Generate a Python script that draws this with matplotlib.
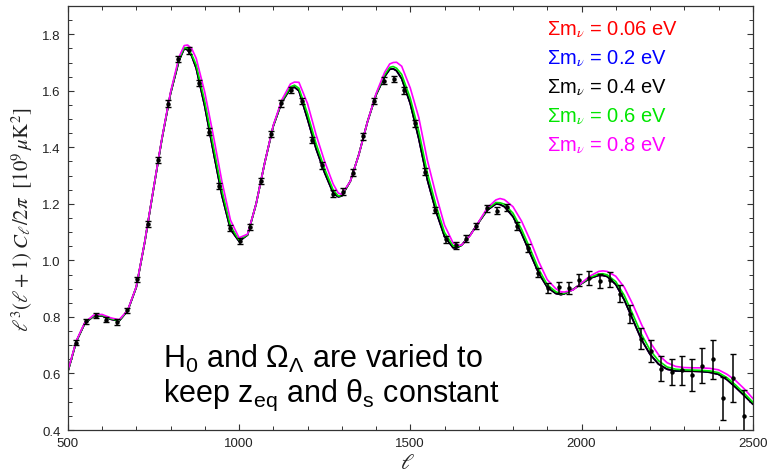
import numpy as np
import matplotlib
matplotlib.use("Agg")
from matplotlib import pyplot as plt
from matplotlib.ticker import MultipleLocator

plt.rcParams['font.family'] = ['Liberation Sans', 'DejaVu Sans']
plt.rcParams['mathtext.fontset'] = 'custom'
plt.rcParams['mathtext.rm'] = 'Liberation Sans'
plt.rcParams['mathtext.it'] = 'Liberation Sans:italic'

# binned data points (multipole, value, 1-sigma)
ell_data = [523, 553, 583, 613, 643, 673, 703, 733, 763, 793,
            823, 853, 883, 913, 943, 973, 1003, 1033, 1063, 1093,
            1123, 1153, 1183, 1213, 1243, 1273, 1303, 1333, 1363, 1393,
            1423, 1453, 1483, 1513, 1543, 1573, 1603, 1633, 1663, 1693,
            1723, 1753, 1783, 1813, 1843, 1873, 1903, 1933, 1963, 1993,
            2023, 2053, 2083, 2113, 2143, 2173, 2203, 2233, 2263, 2293,
            2323, 2353, 2383, 2413, 2443, 2473]
cl_data = [0.708, 0.784, 0.805, 0.790, 0.782, 0.823, 0.933, 1.129, 1.354, 1.555,
           1.713, 1.743, 1.628, 1.456, 1.263, 1.115, 1.070, 1.119, 1.281, 1.447,
           1.556, 1.603, 1.564, 1.426, 1.337, 1.236, 1.243, 1.310, 1.439, 1.564,
           1.636, 1.642, 1.602, 1.485, 1.314, 1.178, 1.075, 1.054, 1.077, 1.122,
           1.184, 1.176, 1.188, 1.122, 1.044, 0.956, 0.902, 0.905, 0.902, 0.930,
           0.937, 0.927, 0.932, 0.882, 0.811, 0.723, 0.680, 0.617, 0.605, 0.611,
           0.594, 0.628, 0.651, 0.512, 0.583, 0.449]
err_data = [0.009, 0.009, 0.009, 0.009, 0.009, 0.009, 0.009, 0.011, 0.011, 0.011,
            0.011, 0.011, 0.011, 0.011, 0.011, 0.011, 0.011, 0.011, 0.011, 0.011,
            0.012, 0.012, 0.012, 0.012, 0.012, 0.012, 0.012, 0.012, 0.012, 0.012,
            0.012, 0.012, 0.012, 0.012, 0.012, 0.012, 0.012, 0.012, 0.012, 0.012,
            0.013, 0.013, 0.013, 0.013, 0.014, 0.016, 0.018, 0.019, 0.020, 0.022,
            0.024, 0.026, 0.027, 0.030, 0.033, 0.037, 0.040, 0.045, 0.046, 0.052,
            0.057, 0.063, 0.069, 0.077, 0.085, 0.092]

# model curves, sampled every 25 in ell plus the peaks / troughs
ell_curve = [500, 525, 550, 575, 600, 625, 650, 675, 700, 725,
             750, 775, 800, 825, 840, 850, 862, 875, 900, 925,
             950, 975, 1000, 1025, 1050, 1075, 1100, 1125, 1150, 1162,
             1175, 1200, 1225, 1250, 1275, 1290, 1300, 1325, 1350, 1375,
             1400, 1425, 1440, 1450, 1460, 1475, 1500, 1525, 1550, 1575,
             1600, 1625, 1635, 1650, 1675, 1700, 1725, 1750, 1762, 1775,
             1800, 1825, 1850, 1875, 1900, 1925, 1940, 1950, 1975, 2000,
             2025, 2050, 2062, 2075, 2100, 2125, 2150, 2175, 2200, 2225,
             2250, 2275, 2300, 2325, 2350, 2375, 2400, 2425, 2450, 2475,
             2500]
cl_black = [0.605, 0.713, 0.778, 0.802, 0.804, 0.792, 0.786, 0.822, 0.905, 1.066,
            1.250, 1.430, 1.590, 1.708, 1.749, 1.745, 1.723, 1.680, 1.545, 1.385,
            1.230, 1.110, 1.068, 1.090, 1.200, 1.345, 1.475, 1.560, 1.608, 1.613,
            1.600, 1.500, 1.395, 1.310, 1.238, 1.225, 1.228, 1.280, 1.375, 1.490,
            1.585, 1.650, 1.676, 1.678, 1.671, 1.643, 1.555, 1.430, 1.285, 1.174,
            1.085, 1.045, 1.044, 1.054, 1.090, 1.135, 1.178, 1.200, 1.198, 1.190,
            1.155, 1.095, 1.025, 0.955, 0.905, 0.883, 0.879, 0.882, 0.897, 0.918,
            0.937, 0.947, 0.947, 0.943, 0.915, 0.860, 0.790, 0.720, 0.668, 0.633,
            0.615, 0.609, 0.608, 0.608, 0.607, 0.604, 0.597, 0.578, 0.551, 0.522,
            0.492]
cl_green = [0.606, 0.714, 0.779, 0.803, 0.806, 0.794, 0.787, 0.823, 0.906, 1.067,
            1.251, 1.431, 1.592, 1.712, 1.753, 1.751, 1.728, 1.692, 1.563, 1.405,
            1.248, 1.122, 1.072, 1.091, 1.200, 1.345, 1.476, 1.563, 1.614, 1.620,
            1.609, 1.519, 1.413, 1.324, 1.249, 1.228, 1.230, 1.280, 1.375, 1.490,
            1.587, 1.656, 1.683, 1.686, 1.680, 1.658, 1.574, 1.456, 1.309, 1.195,
            1.099, 1.052, 1.049, 1.053, 1.089, 1.136, 1.181, 1.205, 1.204, 1.199,
            1.167, 1.110, 1.041, 0.969, 0.914, 0.889, 0.882, 0.884, 0.896, 0.919,
            0.940, 0.952, 0.953, 0.949, 0.925, 0.876, 0.809, 0.739, 0.683, 0.645,
            0.623, 0.615, 0.613, 0.612, 0.611, 0.609, 0.603, 0.585, 0.559, 0.530,
            0.499]
cl_magenta = [0.608, 0.716, 0.781, 0.806, 0.809, 0.797, 0.790, 0.824, 0.907, 1.068,
              1.252, 1.433, 1.595, 1.720, 1.760, 1.762, 1.749, 1.715, 1.595, 1.442,
              1.280, 1.143, 1.080, 1.093, 1.200, 1.345, 1.478, 1.568, 1.624, 1.631,
              1.630, 1.555, 1.445, 1.350, 1.270, 1.238, 1.234, 1.280, 1.375, 1.490,
              1.590, 1.665, 1.695, 1.700, 1.701, 1.687, 1.610, 1.505, 1.354, 1.233,
              1.125, 1.062, 1.054, 1.054, 1.088, 1.137, 1.186, 1.214, 1.219, 1.215,
              1.190, 1.139, 1.072, 0.996, 0.932, 0.900, 0.889, 0.888, 0.895, 0.920,
              0.945, 0.961, 0.963, 0.961, 0.944, 0.905, 0.844, 0.774, 0.711, 0.666,
              0.638, 0.625, 0.621, 0.620, 0.620, 0.618, 0.613, 0.597, 0.575, 0.546,
              0.512]
# the 0.06 and 0.2 eV curves sit under the 0.4 eV one
cl_red = cl_black
cl_blue = cl_black

labels = ['0.06', '0.2', '0.4', '0.6', '0.8']
colors = ['#ff0000', '#0000ff', '#000000', '#00e600', '#ff00ff']

fig = plt.figure(figsize=(7.7, 4.77), dpi=100)
ax = fig.add_axes([0.088, 0.0964, 0.8896, 0.8889])

for cl, c in zip([cl_red, cl_blue, cl_black, cl_green, cl_magenta], colors):
    ax.plot(ell_curve, cl, color=c, lw=1.2, zorder=2, solid_joinstyle='round')

ax.errorbar(ell_data, cl_data, yerr=err_data, fmt='o', ms=2.2, color='k',
            ecolor='k', elinewidth=1.1, capsize=2.2, capthick=1.0, zorder=3)

ax.set_xlim(500, 2500)
ax.set_ylim(0.4, 1.9)
ax.set_xticks([500, 1000, 1500, 2000, 2500])
ax.set_yticks([0.4, 0.6, 0.8, 1.0, 1.2, 1.4, 1.6, 1.8])
ax.set_yticklabels(['0.4', '0.6', '0.8', '1.0', '1.2', '1.4', '1.6', '1.8'])
ax.xaxis.set_minor_locator(MultipleLocator(100))
ax.yaxis.set_minor_locator(MultipleLocator(0.05))
ax.tick_params(which='both', direction='in', top=True, right=True,
               color='#333333', labelsize=9.5, labelcolor='#222222')
ax.tick_params(which='major', length=4.5, width=0.8, pad=5)
ax.tick_params(which='minor', length=2.6, width=0.7)
for sp in ax.spines.values():
    sp.set_color('#333333')
    sp.set_linewidth(0.9)

fig.text(0.029, 0.539, r'$\ell^3(\ell+1)\;C_\ell/2\pi\ \ [10^9\,\mu\mathrm{K}^2]$',
         rotation=90, ha='center', va='center', fontsize=15,
         math_fontfamily='stix', color='#222222')
fig.text(0.529, 0.029, r'$\ell$', ha='center', va='center', fontsize=16,
         math_fontfamily='stix', color='#222222')

for i, (lab, c) in enumerate(zip(labels, colors)):
    ax.text(0.699, 0.934 - i * 0.0684, r'Σm$_\nu$ = ' + lab + ' eV',
            transform=ax.transAxes, color=c, fontsize=14.5, va='baseline',
            math_fontfamily='stix')

ax.text(0.139, 0.1486, r'H$_\mathrm{0}$ and Ω$_\mathrm{Λ}$ are varied to',
        transform=ax.transAxes, fontsize=22, va='baseline')
ax.text(0.139, 0.068, r'keep z$_\mathrm{eq}$ and θ$_\mathrm{s}$ constant',
        transform=ax.transAxes, fontsize=22, va='baseline')

fig.savefig('out.png', dpi=100)
